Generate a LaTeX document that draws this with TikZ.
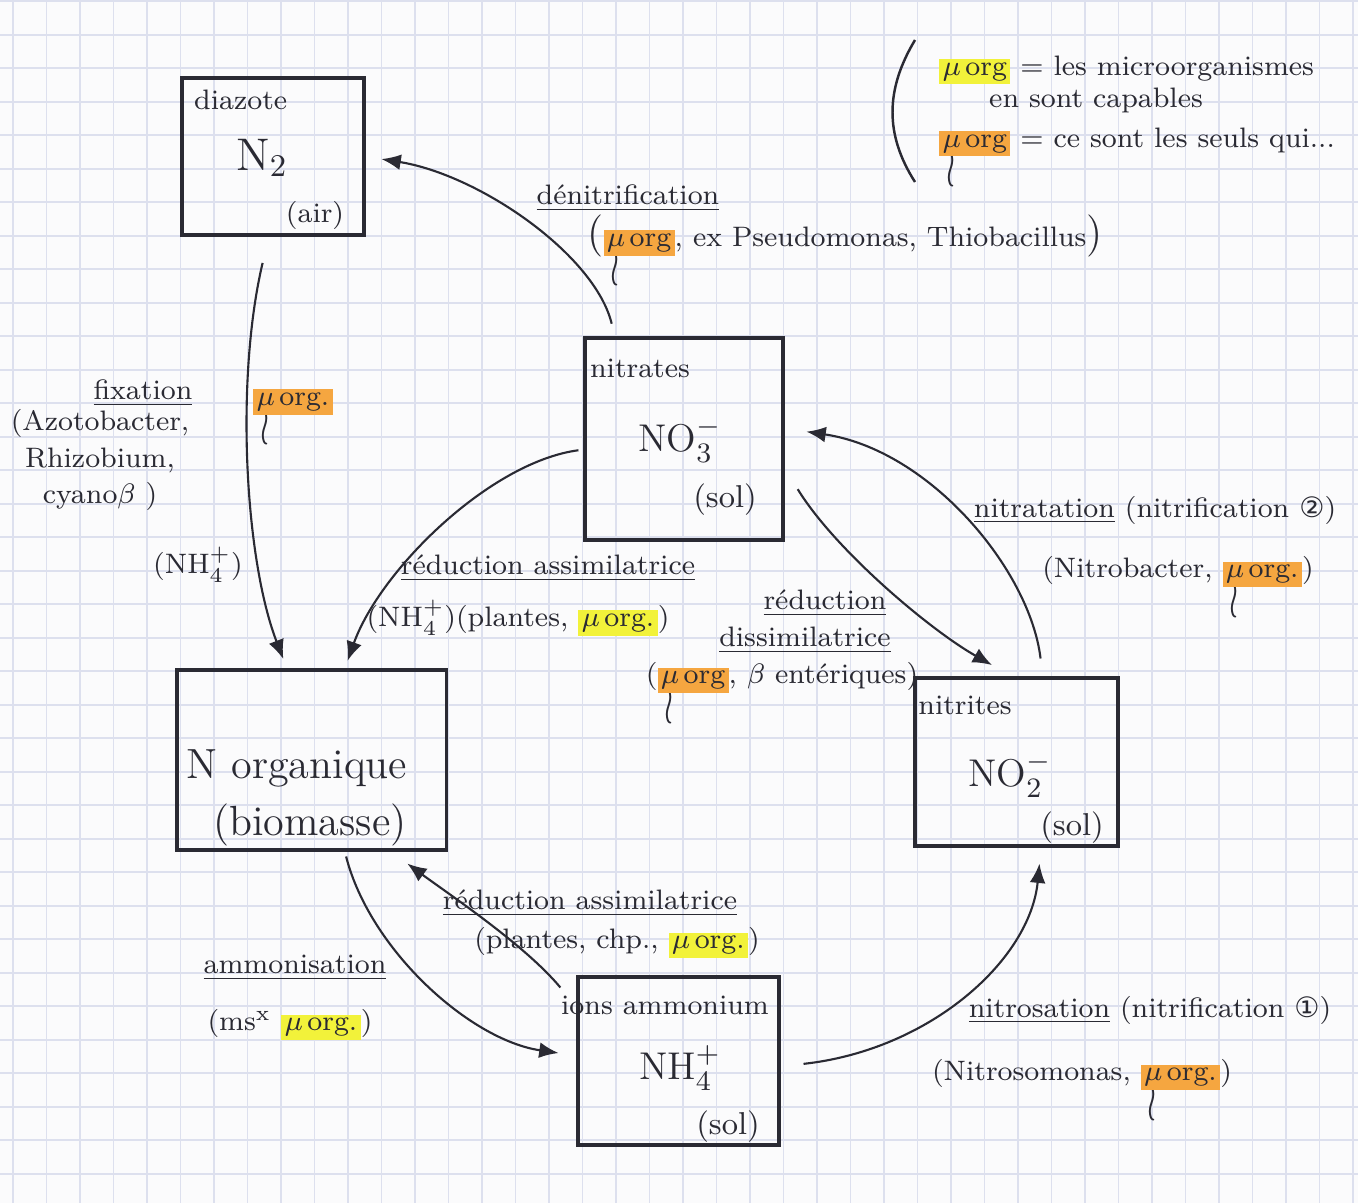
\documentclass[tikz,border=0pt]{standalone}
\usepackage{fontspec}
\usepackage{amsmath}
\usepackage{graphicx}
\usetikzlibrary{arrows.meta}
\newfontfamily\djv{DejaVu Sans}
\definecolor{gridc}{HTML}{DDE0EE}
\definecolor{ink}{HTML}{2A2A33}
\definecolor{hly}{HTML}{F2F23A}
\definecolor{hlo}{HTML}{F5A640}
\definecolor{paper}{HTML}{FBFBFC}
\setlength{\fboxsep}{1pt}
\newcommand{\morgy}[1][org.]{\colorbox{hly}{$\mu$\,#1}}
\newcommand{\morgo}[1][org]{\makebox[0pt][l]{\hspace{2pt}\smash{\raisebox{-1.25em}{\scalebox{1.1}[1.9]{$\wr$}}}}\colorbox{hlo}{$\mu$\,#1}}
\begin{document}
\begin{tikzpicture}[x=0.01cm,y=-0.01cm,
  box/.style={draw=ink, line width=0.9pt, inner sep=0pt},
  flow/.style={draw=ink, line width=0.6pt, -{Latex[length=5.5pt,width=4.5pt]}},
  lab/.style={text=ink, font=\fontsize{8}{10.5}\selectfont, inner sep=1pt, align=center},
  inlab/.style={text=ink, font=\fontsize{8}{9.5}\selectfont, inner sep=1pt},
  formula/.style={text=ink, font=\fontsize{11}{13}\selectfont, inner sep=1pt}]
\fill[paper] (0,0) rectangle (1358,1203);
\useasboundingbox (0,0) rectangle (1358,1203);
\foreach \i in {0,...,40} {\draw[gridc, line width=0.5pt] ({13+\i*33.5},0) -- ({13+\i*33.5},1203);}
\foreach \j in {0,...,35} {\draw[gridc, line width=0.5pt] (0,{1.3+\j*33.5}) -- (1358,{1.3+\j*33.5});}

% boxes
\node[box, minimum width=1.82cm, minimum height=1.57cm] (n2) at (273,156.5) {};
\node[box, minimum width=1.98cm, minimum height=2.02cm] (no3) at (684,439) {};
\node[box, minimum width=2.69cm, minimum height=1.80cm] (norg) at (311.5,760) {};
\node[box, minimum width=2.03cm, minimum height=1.68cm] (no2) at (1016.5,762) {};
\node[box, minimum width=2.01cm, minimum height=1.68cm] (nh4) at (678.5,1061) {};

% box contents
\node[inlab, anchor=west] (t-n2a) at (190,100) {diazote};
\node[formula, font=\fontsize{13}{15}\selectfont] (t-n2b) at (262,158) {N$_2$};
\node[inlab] (t-n2c) at (315,215) {(air)};

\node[inlab] (t-no3a) at (640,368) {nitrates};
\node[formula] (t-no3b) at (680,440) {NO$_3^-$};
\node[inlab, font=\fontsize{9}{11}\selectfont] (t-no3c) at (725,500) {(sol)};

\node[formula, font=\fontsize{12}{14}\selectfont] (t-norga) at (297,768) {N organique};
\node[formula, font=\fontsize{12}{14}\selectfont] (t-norgb) at (310,825) {(biomasse)};

\node[inlab] (t-no2a) at (965,705) {nitrites};
\node[formula] (t-no2b) at (1010,775) {NO$_2^-$};
\node[inlab, font=\fontsize{9}{11}\selectfont] (t-no2c) at (1072,828) {(sol)};

\node[inlab] (t-nh4a) at (665,1005) {ions ammonium};
\node[formula] (t-nh4b) at (680,1068) {NH$_4^+$};
\node[inlab, font=\fontsize{9}{11}\selectfont] (t-nh4c) at (728,1127) {(sol)};

% connectors
\draw[flow, shorten <=0.27cm, shorten >=0.1cm] (n2.-93) .. controls (235,380) and (245,560) .. (norg.105);
\draw[flow, shorten <=0.13cm, shorten >=0.16cm] (no3.124) .. controls (595,255) and (480,175) .. (n2.east);
\draw[flow, shorten <=0.05cm, shorten >=0.08cm] (no3.186) .. controls (490,462) and (380,570) .. (norg.70);
\draw[flow, shorten <=0.25cm, shorten >=0.23cm] (no3.-16) .. controls (835,550) and (930,630) .. (no2.93);
\draw[flow, shorten <=0.18cm, shorten >=0.22cm] (no2.73) .. controls (1030,570) and (930,450) .. (no3.6);
\draw[flow, shorten <=0.05cm, shorten >=0.18cm] (norg.-70) .. controls (370,950) and (470,1040) .. (nh4.177);
\draw[flow, shorten <=0.25cm, shorten >=0.2cm] (nh4.152) .. controls (525,945) and (450,895) .. (norg.-49);
\draw[flow, shorten <=0.23cm, shorten >=0.16cm] (nh4.-3) .. controls (930,1050) and (1030,960) .. (no2.-74);

% labels
\node[lab] (l-fix) at (143,393) {\underline{fixation}};
\node[lab] (l-fix2) at (100,460) {(Azotobacter,\\ Rhizobium,\\ cyano$\beta$ )};
\node[lab] (l-fix3) at (293,402) {\morgo[org.]};
\node[lab] (l-fix4) at (198,565) {(NH$_4^+$)};

\node[lab] (l-den) at (628,198) {\underline{dénitrification}};
\node[lab] (l-den2) at (845,236) {\large(\normalfont\fontsize{8}{10.5}\selectfont\morgo, ex Pseudomonas, Thiobacillus\large)};

\node[lab] (l-ra1) at (548,568) {\underline{réduction assimilatrice}};
\node[lab] (l-ra1b) at (518,618) {(NH$_4^+$)(plantes, \morgy)};

\node[lab] (l-rd) at (825,603) {\underline{réduction}};
\node[lab] (l-rd2) at (805,640) {\underline{dissimilatrice}};
\node[lab] (l-rd3) at (782,678) {(\morgo, $\beta$ entériques)};

\node[lab] (l-nat) at (1155,510) {\underline{nitratation} (nitrification {\djv ②})};
\node[lab] (l-nat2) at (1178,572) {(Nitrobacter, \morgo[org.])};

\node[lab] (l-ra2) at (590,903) {\underline{réduction assimilatrice}};
\node[lab] (l-ra2b) at (617,943) {(plantes, chp., \morgy)};

\node[lab] (l-amm) at (295,968) {\underline{ammonisation}};
\node[lab] (l-amm2) at (290,1025) {(ms$^{\mathrm{x}}$ \morgy)};

\node[lab] (l-nis) at (1150,1010) {\underline{nitrosation} (nitrification {\djv ①})};
\node[lab] (l-nis2) at (1082,1075) {(Nitrosomonas, \morgo[org.])};

% legend
\draw[ink, line width=0.7pt] (915,40) .. controls (885,90) and (885,135) .. (915,182);
\node[lab, anchor=west] (leg1) at (935,70) {\morgy[org] = les microorganismes};
\node[lab, anchor=west] (leg2) at (985,100) {en sont capables};
\node[lab, anchor=west] (leg3) at (935,142) {\morgo\ = ce sont les seuls qui...};
\end{tikzpicture}
\end{document}
